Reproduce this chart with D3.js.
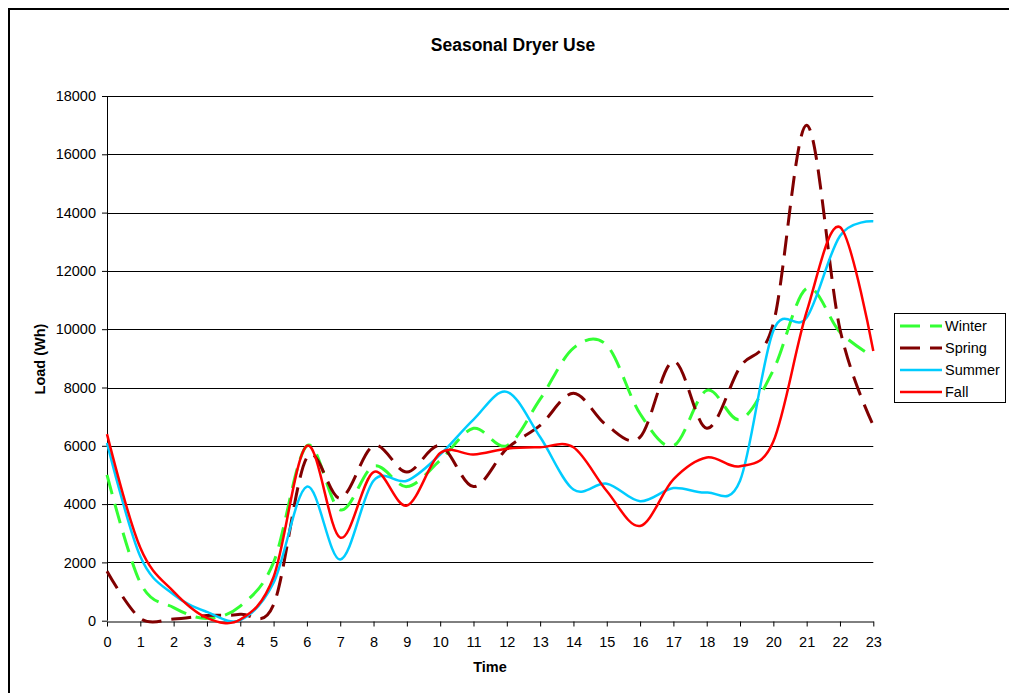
<!DOCTYPE html>
<html>
<head>
<meta charset="utf-8">
<script src="https://cdn.jsdelivr.net/npm/d3@7"></script>
<style>
  body { margin: 0; background: #fff; }
  svg { font-family: 'Liberation Sans', Arial, sans-serif; }
</style>
</head>
<body>
<svg id="chart" width="1009" height="693"></svg>
<script>
// hours of the day
const hours = [0, 1, 2, 3, 4, 5, 6, 7, 8, 9, 10, 11, 12, 13, 14, 15, 16, 17, 18, 19, 20, 21, 22, 23];
const yTicks = [0, 2000, 4000, 6000, 8000, 10000, 12000, 14000, 16000, 18000];

// load (Wh) per season
const winter = [5000, 1300, 450, 80, 500, 2000, 6000, 3800, 5300, 4600, 5500, 6600, 6000, 7600, 9350, 9450, 7100, 6000, 7900, 6900, 8600, 11400, 9900, 9050];
const spring = [1700, 80, 60, 180, 220, 550, 5600, 4200, 6000, 5100, 6000, 4600, 5900, 6700, 7800, 6700, 6300, 8900, 6600, 8700, 10200, 17000, 10000, 6700];
const summer = [6100, 2200, 900, 300, 20, 1300, 4600, 2100, 4800, 4800, 5700, 6900, 7850, 6300, 4500, 4700, 4100, 4550, 4400, 4800, 9950, 10400, 13200, 13700];
const fall = [6400, 2500, 1000, 100, 40, 1500, 6000, 2850, 5100, 3950, 5750, 5700, 5900, 5950, 5950, 4450, 3250, 4850, 5600, 5300, 6150, 10600, 13500, 9250];

const seriesNames = ['Winter', 'Spring', 'Summer', 'Fall'];
const seriesData = [winter, spring, summer, fall];
const colors = ['#33FF33', '#800000', '#00CCFF', '#FF0000'];
const widths = [3, 3, 2.5, 2.5];
const dashes = ['20,10', '20,10', null, null];

const margin = { top: 96, right: 136, bottom: 72, left: 107 };
const W = 1009, H = 693;
const h = H - margin.top - margin.bottom - 0.3;

const svg = d3.select('#chart');

// outer chart border (runs off the right / bottom edge)
svg.append('rect')
    .attr('x', 9).attr('y', 9)
    .attr('width', 1100).attr('height', 800)
    .attr('fill', 'none')
    .attr('stroke', '#000')
    .attr('stroke-width', 2);

const g = svg.append('g')
    .attr('transform', 'translate(' + margin.left + ',' + margin.top + ')');

const xScale = d3.scaleLinear().domain([0, 23]).range([0, 766.3]);
const yScale = d3.scaleLinear().domain([0, 18000]).range([h, 0]);

// grid
g.selectAll('.grid')
    .data(yTicks.filter(d => d > 0))
    .enter()
    .append('line')
    .attr('class', 'grid')
    .attr('x1', 0)
    .attr('x2', xScale(23))
    .attr('y1', d => Math.round(yScale(d)) + 0.5)
    .attr('y2', d => Math.round(yScale(d)) + 0.5)
    .attr('stroke', '#000')
    .attr('stroke-width', 1);

const yAxis = d3.axisLeft(yScale)
    .tickValues(yTicks)
    .tickFormat(d3.format('d'))
    .tickSize(5)
    .tickPadding(6);
const gY = g.append('g').call(yAxis);
gY.select('.domain').remove();
gY.append('line')
    .attr('x1', 0.5).attr('x2', 0.5)
    .attr('y1', 0).attr('y2', h)
    .attr('stroke', '#000');

const xAxis = d3.axisBottom(xScale).tickValues(hours).tickSize(5).tickPadding(10).tickSizeOuter(0);
const gX = g.append('g')
    .attr('transform', 'translate(0,' + (Math.round(h) + 0.5) + ')')
    .call(xAxis);

svg.selectAll('.tick text')
    .attr('font-family', "'Liberation Sans', Arial, sans-serif")
    .attr('font-size', '14.5px')
    .attr('fill', '#000');
svg.selectAll('.tick line').attr('stroke', '#000');
gX.select('.domain').attr('stroke', '#000');

// lines
const line = d3.line()
    .x((d, i) => xScale(hours[i]))
    .y(d => yScale(d))
    .curve(d3.curveCatmullRom.alpha(0));

seriesData.forEach((s, k) => {
    g.append('path')
        .datum(s)
        .attr('fill', 'none')
        .attr('stroke', colors[k])
        .attr('stroke-width', widths[k])
        .attr('stroke-dasharray', dashes[k])
        .attr('stroke-linejoin', 'round')
        .attr('d', line);
});

// titles
svg.append('text')
    .attr('x', 513).attr('y', 51)
    .attr('text-anchor', 'middle')
    .attr('font-weight', 'bold')
    .attr('font-size', '17.5px')
    .text('Seasonal Dryer Use');

svg.append('text')
    .attr('x', 490).attr('y', 672)
    .attr('text-anchor', 'middle')
    .attr('font-weight', 'bold')
    .attr('font-size', '14.5px')
    .text('Time');

svg.append('text')
    .attr('transform', 'translate(45,359) rotate(-90)')
    .attr('text-anchor', 'middle')
    .attr('font-weight', 'bold')
    .attr('font-size', '14.5px')
    .text('Load (Wh)');

// legend
const legend = svg.append('g').attr('transform', 'translate(894,313)');
legend.append('rect')
    .attr('x', 0.5).attr('y', 0.5)
    .attr('width', 111).attr('height', 89)
    .attr('fill', '#fff')
    .attr('stroke', '#000');

seriesNames.forEach((name, k) => {
    const yy = 13 + k * 22;
    legend.append('line')
        .attr('x1', 6).attr('x2', 48)
        .attr('y1', yy).attr('y2', yy)
        .attr('stroke', colors[k])
        .attr('stroke-width', widths[k])
        .attr('stroke-dasharray', dashes[k]);
    legend.append('text')
        .attr('x', 51).attr('y', yy + 5)
        .attr('font-size', '14.5px')
        .text(name);
});
</script>
</body>
</html>
